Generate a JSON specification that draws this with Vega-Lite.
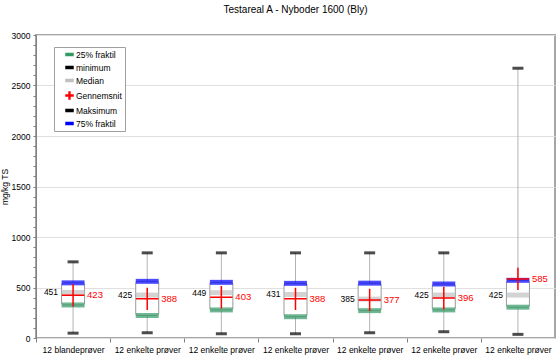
{
  "$schema": "https://vega.github.io/schema/vega-lite/v6.json",
  "autosize": {"type": "none"},
  "padding": {"left": 36, "top": 35, "right": 3, "bottom": 17},
  "width": 519,
  "height": 303,
  "title": {"text": "Testareal A - Nyboder 1600 (Bly)", "fontSize": 10, "fontWeight": "normal", "anchor": "middle", "offset": 16, "color": "#000"},
  "config": {
    "font": "Liberation Sans",
    "view": {"stroke": "#a6a6a6", "strokeWidth": 2},
    "axis": {"labelColor": "#000", "titleColor": "#000", "domainColor": "#808080", "tickColor": "#808080"},
    "axisY": {"titleFontSize": 8.5, "titleFontWeight": "normal", "titlePadding": 2, "labelFontSize": 8.5, "labelPadding": 3, "gridColor": "#e0e0e0", "tickSize": 3},
    "legend": {"symbolType": "M-1,-0.3H1V0.3H-1Z"}
  },
  "data": {"values": [
    {"g": 1, "lbl": "12 blandeprøver", "min": 48, "q1": 327, "median": 451, "mean": 423, "q3": 546, "max": 754},
    {"g": 2, "lbl": "12 enkelte prøver", "min": 52, "q1": 223, "median": 425, "mean": 388, "q3": 561, "max": 843},
    {"g": 3, "lbl": "12 enkelte prøver", "min": 42, "q1": 278, "median": 449, "mean": 403, "q3": 551, "max": 843},
    {"g": 4, "lbl": "12 enkelte prøver", "min": 42, "q1": 211, "median": 431, "mean": 388, "q3": 541, "max": 843},
    {"g": 5, "lbl": "12 enkelte prøver", "min": 52, "q1": 271, "median": 385, "mean": 377, "q3": 543, "max": 843},
    {"g": 6, "lbl": "12 enkelte prøver", "min": 62, "q1": 278, "median": 425, "mean": 396, "q3": 535, "max": 843},
    {"g": 7, "lbl": "12 enkelte prøver", "min": 36, "q1": 305, "median": 425, "mean": 585, "q3": 571, "max": 2671}
  ]},
  "encoding": {
    "x": {
      "field": "g", "type": "ordinal",
      "scale": {"paddingInner": 0, "paddingOuter": 0},
      "axis": {"title": null, "labelAngle": 0, "tickOffset": -37.07, "labelOffset": 37.07, "labelExpr": "datum.value == 1 ? '12 blandeprøver' : '12 enkelte prøver'", "tickSize": 4, "labelPadding": 3, "labelFontSize": 8.5, "domain": false}
    }
  },
  "layer": [
    {
      "mark": {"type": "rule", "color": "#b4b4b4", "strokeWidth": 1},
      "encoding": {
        "y": {"field": "min", "type": "quantitative", "scale": {"domain": [0, 3000], "nice": false},
          "axis": {"title": "mg/kg TS", "format": "d", "values": [0,100,200,300,400,500,600,700,800,900,1000,1100,1200,1300,1400,1500,1600,1700,1800,1900,2000,2100,2200,2300,2400,2500,2600,2700,2800,2900,3000], "labelExpr": "datum.value % 500 === 0 ? datum.label : ''", "labelOverlap": false, "grid": true, "gridOpacity": {"condition": {"test": "datum.value % 500 === 0", "value": 1}, "value": 0}}},
        "y2": {"field": "max"}
      }
    },
    {
      "mark": {"type": "bar", "size": 23, "fill": "#ffffff", "stroke": "#9a9a9a", "strokeWidth": 1, "cornerRadius": 2},
      "encoding": {"y": {"field": "q1", "type": "quantitative", "axis": {"title": "mg/kg TS", "format": "d", "values": [0,100,200,300,400,500,600,700,800,900,1000,1100,1200,1300,1400,1500,1600,1700,1800,1900,2000,2100,2200,2300,2400,2500,2600,2700,2800,2900,3000], "labelExpr": "datum.value % 500 === 0 ? datum.label : ''", "labelOverlap": false, "grid": true, "gridOpacity": {"condition": {"test": "datum.value % 500 === 0", "value": 1}, "value": 0}}}, "y2": {"field": "q3"}}
    },
    {
      "mark": {"type": "tick", "size": 23, "thickness": 5},
      "encoding": {"y": {"field": "q1", "type": "quantitative", "axis": {"title": "mg/kg TS", "format": "d", "values": [0,100,200,300,400,500,600,700,800,900,1000,1100,1200,1300,1400,1500,1600,1700,1800,1900,2000,2100,2200,2300,2400,2500,2600,2700,2800,2900,3000], "labelExpr": "datum.value % 500 === 0 ? datum.label : ''", "labelOverlap": false, "grid": true, "gridOpacity": {"condition": {"test": "datum.value % 500 === 0", "value": 1}, "value": 0}}},
        "color": {"datum": "25% fraktil", "type": "nominal",
          "scale": {"domain": ["25% fraktil", "minimum", "Median", "Gennemsnit", "Maksimum", "75% fraktil"], "range": ["#339966", "#000000", "#c0c0c0", "#ff0000", "#000000", "#0000ff"]},
          "legend": {"title": null, "orient": "none", "legendX": 18, "legendY": 12, "padding": 3, "symbolOffset": 8, "strokeColor": "#a0a0a0", "fillColor": "#ffffff",
            "labelFontSize": 8.5, "labelColor": "#000", "rowPadding": 4, "symbolSize": 49, "labelOffset": 2, "symbolOpacity": 1,
            "encode": {"symbols": {"update": {
              "shape": {"signal": "datum.value === 'Gennemsnit' ? 'M-1,-0.12H-0.12V-1H0.12V-0.12H1V0.12H0.12V1H-0.12V0.12H-1Z' : 'M-1,-0.3H1V0.3H-1Z'"}
            }}}
          }}
      }
    },
    {
      "mark": {"type": "tick", "size": 23, "thickness": 5},
      "encoding": {"y": {"field": "q3", "type": "quantitative", "axis": {"title": "mg/kg TS", "format": "d", "values": [0,100,200,300,400,500,600,700,800,900,1000,1100,1200,1300,1400,1500,1600,1700,1800,1900,2000,2100,2200,2300,2400,2500,2600,2700,2800,2900,3000], "labelExpr": "datum.value % 500 === 0 ? datum.label : ''", "labelOverlap": false, "grid": true, "gridOpacity": {"condition": {"test": "datum.value % 500 === 0", "value": 1}, "value": 0}}}, "color": {"datum": "75% fraktil", "type": "nominal"}}
    },
    {
      "mark": {"type": "tick", "size": 23, "thickness": 5},
      "encoding": {"y": {"field": "median", "type": "quantitative", "axis": {"title": "mg/kg TS", "format": "d", "values": [0,100,200,300,400,500,600,700,800,900,1000,1100,1200,1300,1400,1500,1600,1700,1800,1900,2000,2100,2200,2300,2400,2500,2600,2700,2800,2900,3000], "labelExpr": "datum.value % 500 === 0 ? datum.label : ''", "labelOverlap": false, "grid": true, "gridOpacity": {"condition": {"test": "datum.value % 500 === 0", "value": 1}, "value": 0}}}, "color": {"datum": "Median", "type": "nominal"}}
    },
    {
      "mark": {"type": "tick", "size": 11, "thickness": 3},
      "encoding": {"y": {"field": "min", "type": "quantitative", "axis": {"title": "mg/kg TS", "format": "d", "values": [0,100,200,300,400,500,600,700,800,900,1000,1100,1200,1300,1400,1500,1600,1700,1800,1900,2000,2100,2200,2300,2400,2500,2600,2700,2800,2900,3000], "labelExpr": "datum.value % 500 === 0 ? datum.label : ''", "labelOverlap": false, "grid": true, "gridOpacity": {"condition": {"test": "datum.value % 500 === 0", "value": 1}, "value": 0}}}, "color": {"datum": "minimum", "type": "nominal"}}
    },
    {
      "mark": {"type": "tick", "size": 11, "thickness": 3},
      "encoding": {"y": {"field": "max", "type": "quantitative", "axis": {"title": "mg/kg TS", "format": "d", "values": [0,100,200,300,400,500,600,700,800,900,1000,1100,1200,1300,1400,1500,1600,1700,1800,1900,2000,2100,2200,2300,2400,2500,2600,2700,2800,2900,3000], "labelExpr": "datum.value % 500 === 0 ? datum.label : ''", "labelOverlap": false, "grid": true, "gridOpacity": {"condition": {"test": "datum.value % 500 === 0", "value": 1}, "value": 0}}}, "color": {"datum": "Maksimum", "type": "nominal"}}
    },
    {
      "mark": {"type": "point", "shape": "M-1,0H1M0,-1V1", "size": 500, "filled": false, "strokeWidth": 1.5, "opacity": 1},
      "encoding": {"y": {"field": "mean", "type": "quantitative", "axis": {"title": "mg/kg TS", "format": "d", "values": [0,100,200,300,400,500,600,700,800,900,1000,1100,1200,1300,1400,1500,1600,1700,1800,1900,2000,2100,2200,2300,2400,2500,2600,2700,2800,2900,3000], "labelExpr": "datum.value % 500 === 0 ? datum.label : ''", "labelOverlap": false, "grid": true, "gridOpacity": {"condition": {"test": "datum.value % 500 === 0", "value": 1}, "value": 0}}}, "color": {"datum": "Gennemsnit", "type": "nominal"}}
    },
    {
      "mark": {"type": "text", "align": "right", "dx": -15, "fontSize": 8.5, "color": "#000"},
      "encoding": {"y": {"field": "median", "type": "quantitative", "axis": {"title": "mg/kg TS", "format": "d", "values": [0,100,200,300,400,500,600,700,800,900,1000,1100,1200,1300,1400,1500,1600,1700,1800,1900,2000,2100,2200,2300,2400,2500,2600,2700,2800,2900,3000], "labelExpr": "datum.value % 500 === 0 ? datum.label : ''", "labelOverlap": false, "grid": true, "gridOpacity": {"condition": {"test": "datum.value % 500 === 0", "value": 1}, "value": 0}}}, "text": {"field": "median", "type": "quantitative"}}
    },
    {
      "mark": {"type": "text", "align": "left", "dx": 14, "fontSize": 9.5, "color": "#ff0000"},
      "encoding": {"y": {"field": "mean", "type": "quantitative", "axis": {"title": "mg/kg TS", "format": "d", "values": [0,100,200,300,400,500,600,700,800,900,1000,1100,1200,1300,1400,1500,1600,1700,1800,1900,2000,2100,2200,2300,2400,2500,2600,2700,2800,2900,3000], "labelExpr": "datum.value % 500 === 0 ? datum.label : ''", "labelOverlap": false, "grid": true, "gridOpacity": {"condition": {"test": "datum.value % 500 === 0", "value": 1}, "value": 0}}}, "text": {"field": "mean", "type": "quantitative"}}
    }
  ]
}
